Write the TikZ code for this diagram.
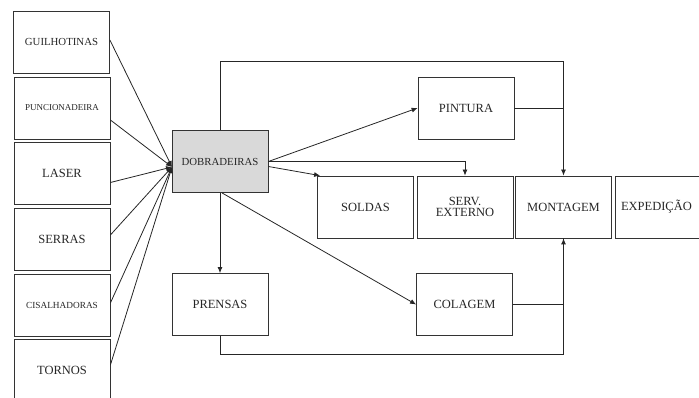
\documentclass[tikz,border=0pt]{standalone}
\usepackage{fontspec}
\setmainfont{Liberation Serif}
\newfontfamily\tnr{Liberation Serif}
\usetikzlibrary{arrows.meta}
\begin{document}
\begin{tikzpicture}[x=1pt,y=-1pt,
  box/.style={draw=black!80, line width=0.8pt, minimum width=96pt, minimum height=62pt, inner sep=0pt, align=center, text=black!85, font=\tnr\fontsize{12.5}{13}\selectfont},
  arr/.style={draw=black!85, line width=0.8pt, -{Latex[length=6pt,width=5pt]}},
  ln/.style={draw=black!85, line width=0.8pt}]
\clip (0,0) rectangle (699,398);
\node[box, font=\tnr\fontsize{10.8}{12}\selectfont] (gui) at (61.5,42) {GUILHOTINAS};
\node[box, font=\tnr\fontsize{9}{10}\selectfont] (pun) at (62,108) {PUNCIONADEIRA};
\node[box] (las) at (62,173.5) {LASER};
\node[box] (ser) at (62,239) {SERRAS};
\node[box, font=\tnr\fontsize{9.3}{10}\selectfont] (cis) at (62,305) {CISALHADORAS};
\node[box] (tor) at (62,370) {TORNOS};
\node[box, fill=black!15, font=\tnr\fontsize{10.8}{12}\selectfont] (dob) at (220,161.5) {DOBRADEIRAS};
\node[box] (pin) at (466,108) {PINTURA};
\node[box] (sol) at (365.5,207) {SOLDAS};
\node[box] (sev) at (465,207) {SERV.\\[-2pt]EXTERNO};
\node[box] (mon) at (563.5,207) {MONTAGEM};
\node[box, text width=85pt, align=left] (exp) at (663.5,207) {EXPEDIÇÃO};
\node[box] (pre) at (220,304.5) {PRENSAS};
\node[box] (col) at (464.5,304.5) {COLAGEM};
\coordinate (cv) at (172,167);
\coordinate (tr) at (563.5,61);
\coordinate (br) at (563.5,354);
\draw[arr] ([yshift=2pt]gui.east) -- (cv);
\draw[arr] ([yshift=-12pt]pun.east) -- (cv);
\draw[arr] ([yshift=-9pt]las.east) -- (cv);
\draw[arr] ([yshift=4pt]ser.east) -- (cv);
\draw[arr] ([yshift=2pt]cis.east) -- (cv);
\draw[arr] ([yshift=5pt]tor.east) -- (cv);
\draw[arr] (dob.north) |- (tr) -- (mon.north);
\draw[arr] (dob.east) -- (pin.west);
\draw[ln] (pin.east) -- (mon.north |- pin.east);
\draw[arr] (dob.east) -| (sev.north);
\draw[arr] ([yshift=-5pt]dob.east) -- ([xshift=3pt]sol.north west);
\draw[arr] (dob.south) -- (pre.north);
\draw[arr] ([xshift=2pt]dob.south) -- (col.west);
\draw[arr] (col.east) -| (mon.south);
\draw[ln] (pre.south) |- (br) -- (mon.south);
\end{tikzpicture}
\end{document}
